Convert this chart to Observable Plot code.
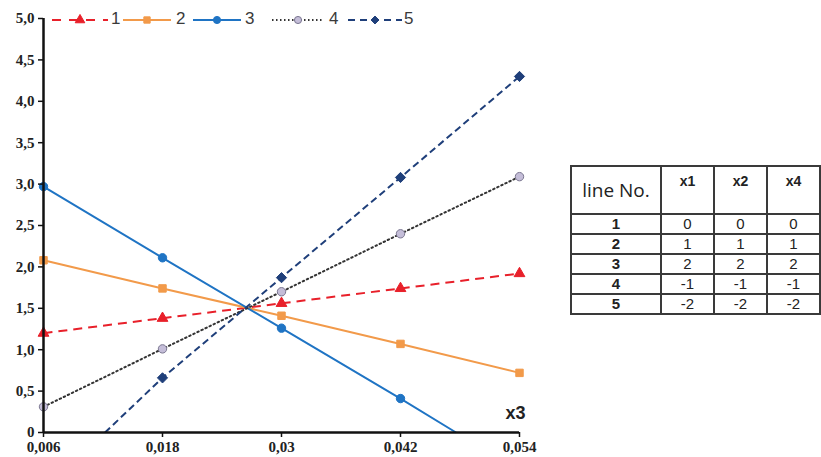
<!DOCTYPE html>
<html>
<head>
<meta charset="utf-8">
<script src="https://cdn.jsdelivr.net/npm/d3@7"></script>
<script src="https://cdn.jsdelivr.net/npm/@observablehq/plot@0.6"></script>
<style>
  html, body { margin: 0; padding: 0; background: #fff; }
  #wrap { position: relative; width: 821px; height: 457px; overflow: hidden; }
  #legend { position: absolute; left: 0; top: 0; width: 460px; height: 34px;
            font-family: "Liberation Sans", Arial, sans-serif; font-size: 17px; color: #3a3a3a; }
  #legend svg, #legend span { position: absolute; display: block; }
  table { position: absolute; left: 570px; top: 165px; border-collapse: collapse;
          font-family: "Liberation Sans", Arial, sans-serif; font-size: 15px; color: #222; }
  td, th { border: 2px solid #3a3a3a; padding: 0; text-align: center; }
  th { height: 40px; vertical-align: top; font-weight: bold; font-size: 14px; padding-top: 6px; }
  th.first { vertical-align: middle; font-weight: normal; font-size: 19px; font-family: "Open Sans", "Liberation Sans", sans-serif; padding-top: 0; }
  td { height: 18px; line-height: 18px; }
  td.num { font-weight: bold; }
</style>
</head>
<body>
<div id="wrap"></div>
<script>
// ---- data ----
const xTicks = [0.006, 0.018, 0.03, 0.042, 0.054];
const yTicks = [0, 0.5, 1, 1.5, 2, 2.5, 3, 3.5, 4, 4.5, 5];

const line1X = [0.006, 0.018, 0.03, 0.042, 0.054];
const line1Y = [1.20, 1.38, 1.56, 1.74, 1.92];
const line2X = [0.006, 0.018, 0.03, 0.042, 0.054];
const line2Y = [2.08, 1.74, 1.41, 1.07, 0.72];
const line3X = [0.006, 0.018, 0.03, 0.042, 0.0476];
const line3Y = [2.97, 2.11, 1.26, 0.41, 0];
const line4X = [0.006, 0.018, 0.03, 0.042, 0.054];
const line4Y = [0.31, 1.01, 1.70, 2.40, 3.09];
const line5X = [0.0122, 0.018, 0.03, 0.042, 0.054];
const line5Y = [0, 0.66, 1.87, 3.08, 4.30];

const seriesNames = ["1", "2", "3", "4", "5"];
const tableHeader = ["line No.", "x1", "x2", "x4"];
const tableLines = ["1", "2", "3", "4", "5"];
const tableX1 = [0, 1, 2, -1, -2];
const tableX2 = [0, 1, 2, -1, -2];
const tableX4 = [0, 1, 2, -1, -2];

// ---- styles ----
const styles = [
  {stroke: "#e8202a", dash: "9,6", symbol: "triangle", fill: "#e8202a", dotStroke: "#e8202a", width: 2, r: 4},
  {stroke: "#f29a4a", dash: null, symbol: "square", fill: "#f29a4a", dotStroke: "#f29a4a", width: 2, r: 4.2},
  {stroke: "#1f74c4", dash: null, symbol: "circle", fill: "#1f74c4", dotStroke: "#1f74c4", width: 2, r: 4.2},
  {stroke: "#333333", dash: "1.5,3", symbol: "circle", fill: "#c4bdd8", dotStroke: "#7a7690", width: 2, r: 4.2},
  {stroke: "#1f3f7a", dash: "7,4", symbol: "diamond2", fill: "#1f3f7a", dotStroke: "#1f3f7a", width: 2, r: 4.6}
];

const xs = [line1X, line2X, line3X, line4X, line5X];
const ys = [line1Y, line2Y, line3Y, line4Y, line5Y];
const series = seriesNames.map((name, i) => xs[i].map((x, j) => ({name, x, y: ys[i][j]})));

const marks = [];
series.forEach((data, i) => {
  const s = styles[i];
  marks.push(Plot.line(data, {x: "x", y: "y", stroke: s.stroke, strokeWidth: s.width,
    strokeDasharray: s.dash || undefined, strokeLinecap: s.dash === "1.5,3" ? "round" : "butt"}));
});
series.forEach((data, i) => {
  const s = styles[i];
  marks.push(Plot.dot(data.filter(d => d.y > 0), {x: "x", y: "y", symbol: () => s.symbol,
    fill: s.fill, stroke: s.dotStroke, strokeWidth: 1, r: s.r}));
});

const yFmt = d => d === 0 ? "0" : d.toFixed(1).replace(".", ",");
const xFmt = d => String(d).replace(".", ",");

const chart = Plot.plot({
  width: 821,
  height: 457,
  marginLeft: 43,
  marginRight: 302,
  marginTop: 18,
  marginBottom: 25,
  style: {fontFamily: "'Liberation Serif', 'Times New Roman', serif", fontSize: "15px", fontWeight: "bold", color: "#222", background: "#fff"},
  x: {domain: [0.006, 0.054]},
  y: {domain: [0, 5]},
  symbol: {type: "identity"},
  marks: [
    ...marks,
    Plot.ruleY([0], {stroke: "#111", strokeWidth: 2.5}),
    Plot.ruleX([0.006], {stroke: "#111", strokeWidth: 2.5}),
    Plot.axisY({ticks: yTicks, tickFormat: yFmt, tickSize: 5, tickPadding: 4, stroke: "#111", strokeWidth: 1.5, label: null}),
    Plot.axisX({ticks: xTicks, tickFormat: xFmt, tickSize: 5, tickPadding: 4, stroke: "#111", strokeWidth: 1.5, label: null}),
    Plot.text(["x3"], {frameAnchor: "bottom-right", dx: 6, dy: -14, fontFamily: "'Liberation Sans', Arial, sans-serif", fontSize: 18, fontWeight: "bold", fill: "#222"})
  ]
});

const wrap = document.getElementById("wrap");
wrap.appendChild(chart);

// legend
const legend = document.createElement("div");
legend.id = "legend";
const iconLeft = [52, 123, 193, 272, 348];
const iconWidth = [56, 48, 48, 52, 54];
const textLeft = [111, 176, 245, 329, 404];
const ns = "http://www.w3.org/2000/svg";
const symMap = {triangle: d3.symbolTriangle, square: d3.symbolSquare, circle: d3.symbolCircle, diamond2: d3.symbolDiamond2};
seriesNames.forEach((name, i) => {
  const s = styles[i];
  const w = iconWidth[i];
  const svg = document.createElementNS(ns, "svg");
  svg.setAttribute("width", w); svg.setAttribute("height", 14);
  svg.style.left = iconLeft[i] + "px"; svg.style.top = "13px";
  const ln = document.createElementNS(ns, "line");
  ln.setAttribute("x1", 0); ln.setAttribute("x2", w); ln.setAttribute("y1", 7); ln.setAttribute("y2", 7);
  ln.setAttribute("stroke", s.stroke); ln.setAttribute("stroke-width", 2);
  if (s.dash) ln.setAttribute("stroke-dasharray", i === 0 ? "9,8" : i === 3 ? "1.5,2.5" : "7,5");
  svg.appendChild(ln);
  const sym = d3.symbol().type(symMap[s.symbol]).size(40)();
  const p = document.createElementNS(ns, "path");
  p.setAttribute("d", sym); p.setAttribute("transform", `translate(${w/2},7)`);
  p.setAttribute("fill", s.fill); p.setAttribute("stroke", s.dotStroke);
  svg.appendChild(p);
  legend.appendChild(svg);
  const sp = document.createElement("span");
  sp.textContent = name;
  sp.style.left = textLeft[i] + "px"; sp.style.top = "9px";
  legend.appendChild(sp);
});
wrap.appendChild(legend);

// table
const table = document.createElement("table");
const colW = [88, 51, 51, 51];
const hr = document.createElement("tr");
tableHeader.forEach((h, i) => {
  const th = document.createElement("th");
  th.textContent = h;
  th.style.width = colW[i] + "px";
  if (i === 0) th.className = "first";
  hr.appendChild(th);
});
table.appendChild(hr);
tableLines.forEach((l, r) => {
  const tr = document.createElement("tr");
  [l, tableX1[r], tableX2[r], tableX4[r]].forEach((v, c) => {
    const td = document.createElement("td");
    td.textContent = String(v);
    if (c === 0) td.className = "num";
    tr.appendChild(td);
  });
  table.appendChild(tr);
});
wrap.appendChild(table);
</script>
</body>
</html>
